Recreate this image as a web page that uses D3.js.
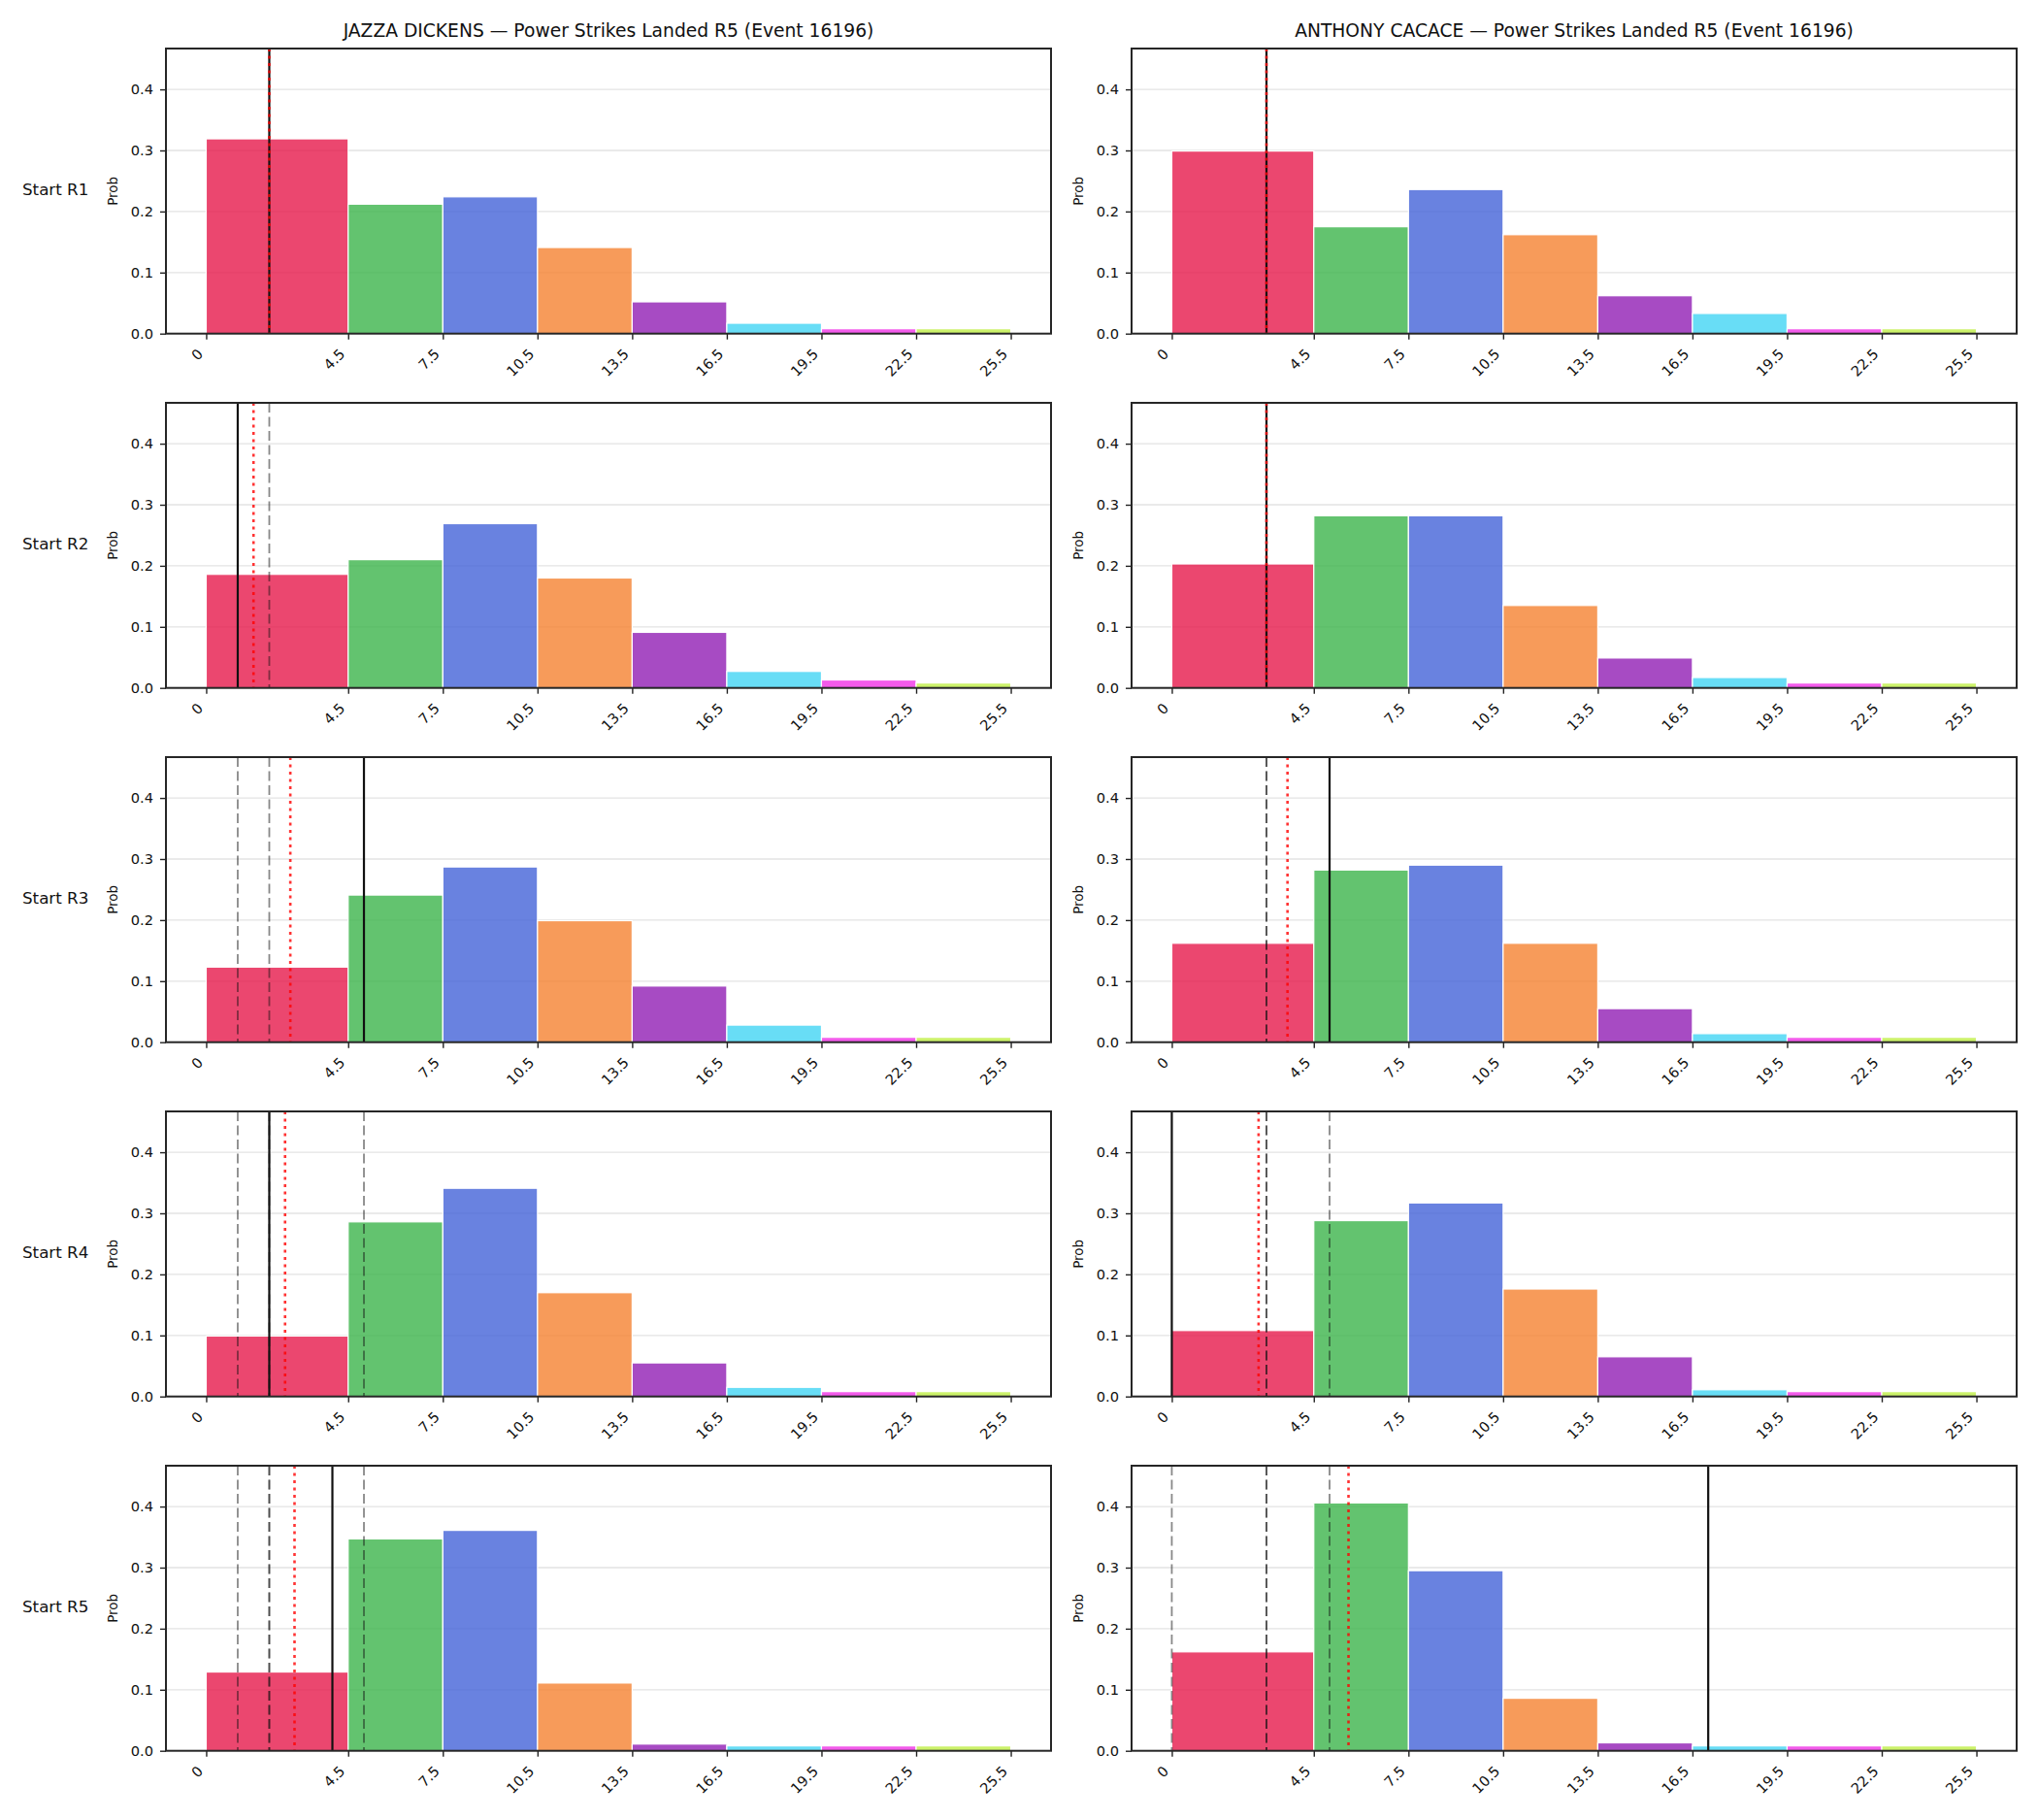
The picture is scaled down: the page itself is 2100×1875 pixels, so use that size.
<!DOCTYPE html>
<html>
<head>
<meta charset="utf-8">
<script src="https://cdn.jsdelivr.net/npm/d3@7"></script>
<style>
  body { margin: 0; background: #fff; }
  text { font-family: "DejaVu Sans", sans-serif; fill: #111; }
</style>
</head>
<body>
<svg id="chart" width="2100" height="1875"></svg>
<script>
// ---- data ----
const fighters = ["JAZZA DICKENS", "ANTHONY CACACE"];
const rowLabels = ["Start R1", "Start R2", "Start R3", "Start R4", "Start R5"];
const binEdges = [0, 4.5, 7.5, 10.5, 13.5, 16.5, 19.5, 22.5, 25.5];
const binColors = ["#e6194b", "#3cb44b", "#4363d8", "#f58231", "#911eb4", "#42d4f4", "#f032e6", "#bfef45"];

const jazzaProbs = [
  [0.319, 0.212, 0.224, 0.141, 0.052, 0.017, 0.008, 0.008],
  [0.186, 0.210, 0.269, 0.180, 0.091, 0.027, 0.013, 0.008],
  [0.123, 0.241, 0.287, 0.199, 0.092, 0.028, 0.008, 0.008],
  [0.099, 0.286, 0.341, 0.170, 0.055, 0.015, 0.008, 0.008],
  [0.129, 0.347, 0.361, 0.111, 0.011, 0.008, 0.008, 0.008]
];
const cacaceProbs = [
  [0.299, 0.175, 0.236, 0.162, 0.062, 0.033, 0.008, 0.008],
  [0.203, 0.282, 0.282, 0.135, 0.049, 0.017, 0.008, 0.008],
  [0.162, 0.282, 0.290, 0.162, 0.055, 0.014, 0.008, 0.008],
  [0.108, 0.288, 0.317, 0.176, 0.065, 0.011, 0.008, 0.008],
  [0.162, 0.406, 0.295, 0.086, 0.013, 0.008, 0.008, 0.008]
];
// power strikes landed in each round so far
const jazzaRounds = [2, 1, 5, 2, 4];
const cacaceRounds = [3, 3, 5, 0, 17];

const probs = [jazzaProbs, cacaceProbs];
const rounds = [jazzaRounds, cacaceRounds];

// ---- layout ----
const svg = d3.select("#chart");
const colLeft = [171, 1166];
const rowTop = [50, 415, 780, 1145, 1510];
const pw = 912, ph = 293.7;

const ymax = d3.max(probs.flat(2)) * 1.15;
const x = d3.scaleLinear().domain([-1.275, 26.775]).range([0, pw]);
const y = d3.scaleLinear().domain([0, ymax]).range([ph, 0]);
const yTicks = [0, 0.1, 0.2, 0.3, 0.4];

fighters.forEach((name, c) => {
  svg.append("text")
    .attr("x", colLeft[c] + pw / 2)
    .attr("y", 38)
    .attr("text-anchor", "middle")
    .style("font-size", "18.7px")
    .text(name + " \u2014 Power Strikes Landed R5 (Event 16196)");

  rowLabels.forEach((lab, r) => {
    const g = svg.append("g").attr("transform", `translate(${colLeft[c]},${rowTop[r]})`);

    if (c === 0) {
      svg.append("text")
        .attr("x", 23)
        .attr("y", rowTop[r] + ph / 2)
        .attr("dominant-baseline", "middle")
        .style("font-size", "16.7px")
        .text(lab);
    }

    // grid
    g.selectAll(".grid").data(yTicks.slice(1)).enter()
      .append("line")
      .attr("x1", 0).attr("x2", pw)
      .attr("y1", d => y(d)).attr("y2", d => y(d))
      .attr("stroke", "#e3e3e3").attr("stroke-width", 1.3);

    // bars
    g.selectAll(".bar").data(probs[c][r]).enter()
      .append("rect")
      .attr("x", (d, i) => x(binEdges[i]))
      .attr("width", (d, i) => x(binEdges[i + 1]) - x(binEdges[i]))
      .attr("y", d => y(d))
      .attr("height", d => y(0) - y(d))
      .attr("fill", (d, i) => binColors[i])
      .attr("fill-opacity", 0.8)
      .attr("stroke", "#fff")
      .attr("stroke-width", 1.2);

    const seen = rounds[c].slice(0, r + 1);
    const prev = rounds[c].slice(0, r);
    const avg = d3.mean(seen);

    // earlier rounds
    g.selectAll(".prev").data(prev).enter()
      .append("line")
      .attr("x1", d => x(d)).attr("x2", d => x(d))
      .attr("y1", 0).attr("y2", ph)
      .attr("stroke", "#111").attr("stroke-opacity", 0.5)
      .attr("stroke-width", 1.8)
      .attr("stroke-dasharray", "10,4.5");

    // current round
    g.append("line")
      .attr("x1", x(rounds[c][r])).attr("x2", x(rounds[c][r]))
      .attr("y1", 0).attr("y2", ph)
      .attr("stroke", "#111").attr("stroke-width", 2.2);

    // running average
    g.append("line")
      .attr("x1", x(avg)).attr("x2", x(avg))
      .attr("y1", 0).attr("y2", ph)
      .attr("stroke", "red").attr("stroke-opacity", 0.8)
      .attr("stroke-width", 2.6)
      .attr("stroke-dasharray", "3,4.5");

    // axes
    const ya = g.append("g")
      .call(d3.axisLeft(y).tickValues(yTicks).tickFormat(d3.format(".1f")).tickSize(6).tickPadding(7).tickSizeOuter(0));
    ya.select(".domain").remove();
    ya.selectAll("line").attr("stroke", "#222").attr("stroke-width", 1.4);
    ya.selectAll("text").style("font-size", "14.6px").attr("fill", "#111");

    const xa = g.append("g").attr("transform", `translate(0,${ph})`)
      .call(d3.axisBottom(x).tickValues(binEdges).tickFormat(d => String(d)).tickSize(6).tickSizeOuter(0));
    xa.select(".domain").remove();
    xa.selectAll("line").attr("stroke", "#222").attr("stroke-width", 1.4);
    xa.selectAll("text")
      .style("font-size", "14.6px")
      .attr("fill", "#111")
      .attr("text-anchor", "end")
      .attr("dy", null)
      .attr("y", null)
      .attr("transform", "translate(-3,22) rotate(-45)");

    // frame
    g.append("rect")
      .attr("width", pw).attr("height", ph)
      .attr("fill", "none")
      .attr("stroke", "#262626").attr("stroke-width", 2);

    g.append("text")
      .attr("transform", `translate(-54,${ph / 2}) rotate(-90)`)
      .attr("text-anchor", "middle")
      .attr("dominant-baseline", "middle")
      .style("font-size", "13.5px")
      .text("Prob");
  });
});
</script>
</body>
</html>
